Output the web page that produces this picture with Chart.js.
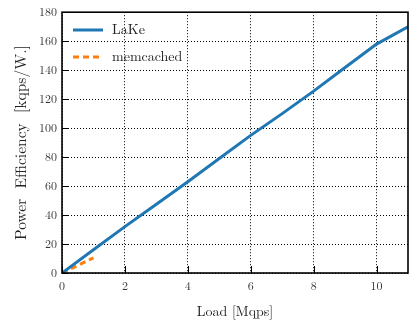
<!DOCTYPE html>
<html><head><meta charset="utf-8">
<script src="https://cdn.jsdelivr.net/npm/chart.js@4"></script>
<style>html,body{margin:0;padding:0;background:#fff}#w{width:414px;height:324px}</style>
</head><body><div id="w"><canvas id="c"></canvas></div>
<script>
const lakeLoads = [0, 1, 2, 3, 4, 5, 6, 7, 8, 9, 10, 11];
const lakeValues = [0, 16, 32, 47.5, 63, 79, 95, 110, 125.5, 141.8, 158, 170];
const memLoads = [0, 1];
const memValues = [0, 10.5];
const xTicks = [0, 2, 4, 6, 8, 10];
const yTicks = [0, 20, 40, 60, 80, 100, 120, 140, 160, 180];
const seriesNames = ['LaKe', 'memcached'];
const xTitle = 'Load [Mqps]';
const yTitle = 'Power  Efficiency  [kqps/W.]';

const FONT = '"Latin Modern Roman", "DejaVu Serif", serif';
const frame = {
  id: 'frame',
  afterDatasetsDraw(chart) {
    const {ctx, chartArea: a, scales} = chart;
    ctx.save();
    ctx.strokeStyle = '#000';
    ctx.lineWidth = 1;
    ctx.beginPath();
    xTicks.forEach(v => { const px = Math.round(scales.x.getPixelForValue(v)) + 0.5; ctx.moveTo(px, a.bottom); ctx.lineTo(px, a.bottom - 7); });
    yTicks.forEach(v => { const py = Math.round(scales.y.getPixelForValue(v)) + 0.5; ctx.moveTo(a.left, py); ctx.lineTo(a.left + 7, py); });
    ctx.stroke();
    ctx.lineWidth = 1.6;
    ctx.strokeRect(a.left, a.top, a.right - a.left, a.bottom - a.top);
    // legend
    const ds = chart.data.datasets;
    const rows = [30, 57];
    ctx.font = '14px ' + FONT;
    ctx.textBaseline = 'middle';
    ds.forEach((d, i) => {
      ctx.beginPath();
      ctx.strokeStyle = d.borderColor;
      ctx.lineWidth = 3;
      ctx.setLineDash(d.borderDash || []);
      ctx.moveTo(a.left + 11, rows[i]); ctx.lineTo(a.left + 41, rows[i]);
      ctx.stroke();
      ctx.setLineDash([]);
      ctx.fillStyle = '#222';
      ctx.fillText(d.label, a.left + 50, rows[i]);
    });
    ctx.restore();
  }
};

new Chart(document.getElementById('c'), {
  type: 'scatter',
  data: {
    datasets: [
      { label: seriesNames[0], data: lakeLoads.map((x, i) => ({x, y: lakeValues[i]})), showLine: true, borderColor: '#1f77b4', borderWidth: 3, pointRadius: 0, fill: false },
      { label: seriesNames[1], data: memLoads.map((x, i) => ({x, y: memValues[i]})), showLine: true, borderColor: '#ff7f0e', borderWidth: 3, borderDash: [6, 4], pointRadius: 0, fill: false }
    ]
  },
  options: {
    responsive: true, maintainAspectRatio: false, animation: false,
    layout: { padding: { top: 8, right: 6, left: 0, bottom: 0 } },
    plugins: { legend: { display: false }, tooltip: { enabled: false } },
    scales: {
      x: {
        type: 'linear', min: 0, max: 11,
        afterBuildTicks(s) { s.ticks = xTicks.map(v => ({value: v})); },
        afterFit(s) { s.height = 51; },
        grid: { color: '#000', lineWidth: 1, borderDash: [1, 2], drawTicks: false },
        border: { display: false, dash: [1, 2] },
        ticks: { color: '#333', font: { family: FONT, size: 12 }, padding: 6 },
        title: { display: true, text: xTitle, color: '#222', font: { family: FONT, size: 14 }, padding: { top: 4 } }
      },
      y: {
        min: 0, max: 180,
        afterBuildTicks(s) { s.ticks = yTicks.map(v => ({value: v})); },
        afterFit(s) { s.width = 62; },
        grid: { color: '#000', lineWidth: 1, borderDash: [1, 2], drawTicks: false },
        border: { display: false, dash: [1, 2] },
        ticks: { color: '#333', font: { family: FONT, size: 12 }, padding: 5 },
        title: { display: true, text: yTitle, color: '#222', font: { family: FONT, size: 15.5 }, padding: { top: 12, bottom: 6 } }
      }
    }
  },
  plugins: [frame]
});
</script></body></html>
